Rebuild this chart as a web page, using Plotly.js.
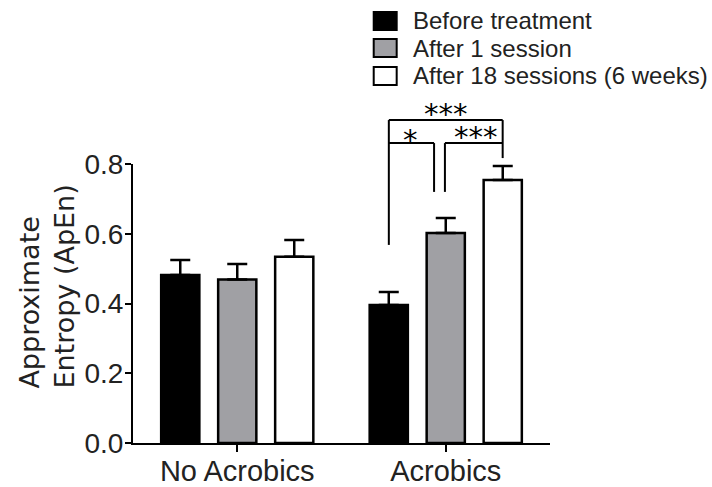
<!DOCTYPE html>
<html>
<head>
<meta charset="utf-8">
<script src="https://cdn.plot.ly/plotly-3.0.1.min.js"></script>
<style>html,body{margin:0;padding:0;background:#fff;}#chart{width:712px;height:487px;}</style>
</head>
<body>
<div id="chart"></div>
<script>
// ---- data ----
var categories = ['No Acrobics', 'Acrobics'];
var seriesNames = ['Before treatment', 'After 1 session', 'After 18 sessions (6 weeks)'];
var before = [0.482, 0.396];
var beforeErr = [0.043, 0.037];
var after1 = [0.469, 0.602];
var after1Err = [0.044, 0.043];
var after18 = [0.534, 0.754];
var after18Err = [0.048, 0.040];
var yTicks = [0.0, 0.2, 0.4, 0.6, 0.8];
var yTickText = ['0.0', '0.2', '0.4', '0.6', '0.8'];

// ---- geometry (pixels of the 712x487 figure) ----
var W = 712, H = 487;
var L = 133, R = 550.5, T = 164, B = 443;
var YMAX = 0.8;
function pxX(x) { return (x - L) / (R - L); }
function pxY(y) { return (B - y) / (B - T); }
function vY(v) { return v / YMAX; }

var SANS = 'Liberation Sans, Arial, Helvetica, sans-serif';
var WIDE = 'DejaVu Sans, Arial, sans-serif';
var fills = ['#000000', '#a0a0a4', '#ffffff'];
var vals = [before, after1, after18];
var errs = [beforeErr, after1Err, after18Err];

var traces = vals.map(function (v, i) {
  return {
    type: 'bar',
    name: seriesNames[i],
    x: categories,
    y: v,
    marker: { color: fills[i], line: { color: '#000', width: 2.5 } },
    error_y: {
      type: 'data', symmetric: false, array: errs[i],
      arrayminus: v.map(function () { return 0; }),
      color: '#000', thickness: 2.5, width: 10
    },
    showlegend: false,
    hoverinfo: 'skip'
  };
});

// significance brackets (x in category units, y in data units)
var bl = 0.727, br = 1.273, gL = 0.944, gR = 0.996;
var outerY = 0.926, innerY = 0.860;
var segs = [
  [bl, 0.568, bl, outerY], [bl, outerY, br, outerY], [br, outerY, br, 0.817],
  [bl, innerY, gL, innerY], [gL, innerY, gL, 0.720],
  [gR, innerY, br, innerY], [gR, innerY, gR, 0.720]
];
var shapes = segs.map(function (s) {
  return { type: 'line', xref: 'x', yref: 'paper', x0: s[0], y0: vY(s[1]), x1: s[2], y1: vY(s[3]),
           line: { color: '#000', width: 2 } };
});

// manual legend
var legRows = [21, 48, 76];
legRows.forEach(function (cy, i) {
  shapes.push({ type: 'rect', xref: 'paper', yref: 'paper',
    x0: pxX(374), x1: pxX(397), y0: pxY(cy - 9), y1: pxY(cy + 9),
    fillcolor: fills[i], line: { color: '#000', width: 2 } });
});

var annotations = legRows.map(function (cy, i) {
  return { xref: 'paper', yref: 'paper', x: pxX(411), y: pxY(cy), xanchor: 'left', yanchor: 'middle',
           text: seriesNames[i], showarrow: false, font: { family: SANS, size: 24, color: '#222' } };
});

// stars
var stars = [['***', 1.0, 0.944], ['*', 0.83, 0.868], ['***', 1.145, 0.876]];
stars.forEach(function (s) {
  annotations.push({ xref: 'x', yref: 'paper', x: s[1], y: vY(s[2]), xanchor: 'center', yanchor: 'middle',
    text: s[0], showarrow: false, font: { family: WIDE, size: 29, color: '#000' } });
});

// y-axis title
annotations.push({ xref: 'paper', yref: 'paper', x: pxX(46), y: pxY(286.5), xanchor: 'center', yanchor: 'middle',
  text: 'Approximate<br>Entropy (ApEn)', textangle: -90, align: 'left', showarrow: false,
  font: { family: WIDE, size: 27, color: '#222' } });

var layout = {
  width: W, height: H,
  margin: { l: L, r: W - R, t: T, b: H - B, pad: 0 },
  paper_bgcolor: '#fff', plot_bgcolor: '#fff',
  barmode: 'group', bargap: 0.18, bargroupgap: 0.33,
  font: { family: SANS, color: '#222' },
  showlegend: false,
  xaxis: {
    type: 'category', range: [-0.5, 1.5],
    showline: true, linecolor: '#000', linewidth: 2,
    ticks: 'outside', ticklen: 7, tickwidth: 2, tickcolor: '#000',
    tickfont: { family: SANS, size: 29, color: '#222' },
    ticklabelstandoff: -6,
    showgrid: false, zeroline: false, fixedrange: true
  },
  yaxis: {
    range: [0, YMAX],
    tickvals: yTicks, ticktext: yTickText,
    showline: true, linecolor: '#000', linewidth: 2,
    ticks: 'outside', ticklen: 6, tickwidth: 2, tickcolor: '#000',
    tickfont: { family: SANS, size: 28, color: '#222' },
    ticklabelstandoff: -4,
    showgrid: false, zeroline: false, fixedrange: true
  },
  shapes: shapes,
  annotations: annotations
};

Plotly.newPlot('chart', traces, layout, { staticPlot: true, displayModeBar: false });
</script>
</body>
</html>
